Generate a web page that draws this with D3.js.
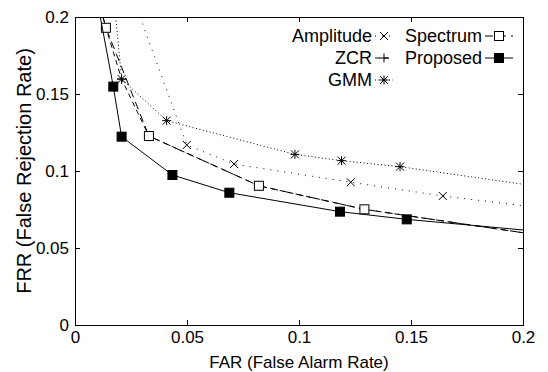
<!DOCTYPE html>
<html>
<head>
<meta charset="utf-8">
<script src="https://cdn.jsdelivr.net/npm/d3@7"></script>
<style>
	body { margin: 0; background: #fff; }
	svg { display: block; font-family: "Liberation Sans", Arial, sans-serif; }
	.axis text { font-size: 17px; fill: #000; font-family: "Liberation Sans", Arial, sans-serif; }
	.axis path { display: none; }
	.axis line { stroke: #000; }
	.xtitle { font-size: 17px; fill: #000; }
	.ytitle { font-size: 20px; fill: #000; }
	.legend text { font-size: 18px; fill: #000; }
</style>
</head>
<body>
<script>
(function() {

"use strict";

const TICKS = [0, 0.05, 0.1, 0.15, 0.2];
const TICK_LABELS = ["0", "0.05", "0.1", "0.15", "0.2"];

// values; points on the frame are where the line leaves the plot
const AMPLITUDE_FAR = [0.029, 0.0499, 0.071, 0.1231, 0.1642, 0.2];
const AMPLITUDE_FRR = [0.2, 0.1169, 0.1045, 0.0927, 0.0838, 0.0775];

const ZCR_FAR = [0.0125, 0.0138, 0.0208, 0.033, 0.0821, 0.1292, 0.2];
const ZCR_FRR = [0.2, 0.193, 0.1597, 0.1227, 0.0904, 0.0751, 0.0599];

const GMM_FAR = [0.0182, 0.0208, 0.0409, 0.0982, 0.119, 0.1451, 0.2];
const GMM_FRR = [0.2, 0.1597, 0.1327, 0.1108, 0.1067, 0.1028, 0.0914];

const SPECTRUM_FAR = [0.0125, 0.0138, 0.033, 0.0821, 0.1292, 0.2];
const SPECTRUM_FRR = [0.2, 0.193, 0.1227, 0.0904, 0.0751, 0.0599];

const PROPOSED_FAR = [0.0113, 0.0171, 0.0208, 0.0435, 0.0689, 0.1183, 0.1481, 0.2];
const PROPOSED_FRR = [0.2, 0.1548, 0.1223, 0.0974, 0.0859, 0.0736, 0.0686, 0.0617];

const SERIES = [
	{name: "Amplitude", far: AMPLITUDE_FAR, frr: AMPLITUDE_FRR, dash: "1,6", marker: "cross"},
	{name: "ZCR", far: ZCR_FAR, frr: ZCR_FRR, dash: "5,4", marker: "plus"},
	{name: "GMM", far: GMM_FAR, frr: GMM_FRR, dash: "1,2.5", marker: "star"},
	{name: "Spectrum", far: SPECTRUM_FAR, frr: SPECTRUM_FRR, dash: "8,5", marker: "open"},
	{name: "Proposed", far: PROPOSED_FAR, frr: PROPOSED_FRR, dash: null, marker: "filled"},
];

const width = 548, height = 372;
const margin = {top: 17, right: 25, bottom: 47, left: 75};

let x = d3.scaleLinear().domain([0, 0.2]).range([margin.left, width - margin.right]);
let y = d3.scaleLinear().domain([0, 0.2]).range([height - margin.bottom, margin.top]);

let svg = d3.select("body").append("svg")
	.attr("width", width)
	.attr("height", height);

svg.append("defs").append("clipPath")
	.attr("id", "plot")
	.append("rect")
		.attr("x", x(0))
		.attr("y", y(0.2))
		.attr("width", x(0.2) - x(0))
		.attr("height", y(0) - y(0.2));

let fmt = d => TICK_LABELS[TICKS.indexOf(d)];

// axes with inward ticks, mirrored on top and right
svg.append("g")
	.attr("class", "axis")
	.attr("transform", `translate(0, ${y(0)})`)
	.call(d3.axisBottom(x).tickValues(TICKS).tickFormat(fmt).tickSizeInner(-5).tickPadding(6));
svg.append("g")
	.attr("class", "axis")
	.attr("transform", `translate(0, ${y(0.2)})`)
	.call(d3.axisTop(x).tickValues(TICKS).tickFormat("").tickSizeInner(-5));
svg.append("g")
	.attr("class", "axis")
	.attr("transform", `translate(${x(0)}, 0)`)
	.call(d3.axisLeft(y).tickValues(TICKS).tickFormat(fmt).tickSizeInner(-5).tickPadding(6));
svg.append("g")
	.attr("class", "axis")
	.attr("transform", `translate(${x(0.2)}, 0)`)
	.call(d3.axisRight(y).tickValues(TICKS).tickFormat("").tickSizeInner(-5));

svg.append("rect")
	.attr("x", x(0))
	.attr("y", y(0.2))
	.attr("width", x(0.2) - x(0))
	.attr("height", y(0) - y(0.2))
	.attr("fill", "none")
	.attr("stroke", "#000")
	.attr("shape-rendering", "crispEdges");

svg.append("text")
	.attr("class", "xtitle")
	.attr("x", (x(0) + x(0.2)) / 2)
	.attr("y", 368)
	.attr("text-anchor", "middle")
	.text("FAR (False Alarm Rate)");

svg.append("text")
	.attr("class", "ytitle")
	.attr("transform", `translate(31, ${(y(0) + y(0.2)) / 2}) rotate(-90)`)
	.attr("text-anchor", "middle")
	.text("FRR (False Rejection Rate)");

function drawMarker(g, type, cx, cy) {
	let m = g.append("g").attr("transform", `translate(${cx}, ${cy})`);
	if (type === "cross" || type === "star")
		m.append("path").attr("d", "M-4,-4L4,4M-4,4L4,-4").attr("stroke", "#000").attr("fill", "none");
	if (type === "plus" || type === "star")
		m.append("path").attr("d", "M-4.5,0L4.5,0M0,-4.5L0,4.5").attr("stroke", "#000").attr("fill", "none");
	if (type === "open" || type === "filled")
		m.append("rect")
			.attr("x", -4.5).attr("y", -4.5).attr("width", 9).attr("height", 9)
			.attr("fill", type === "filled" ? "#000" : "#fff")
			.attr("stroke", "#000");
}

let line = d3.line()
	.x(d => x(d[0]))
	.y(d => y(d[1]));

let chart = svg.append("g").attr("clip-path", "url(#plot)");

for (let s of SERIES) {
	let points = s.far.map((f, i) => [f, s.frr[i]]);
	chart.append("path")
		.datum(points)
		.attr("d", line)
		.attr("fill", "none")
		.attr("stroke", "#000")
		.attr("stroke-width", 1)
		.attr("stroke-dasharray", s.dash);
	for (let p of points) {
		if (p[0] < 0.2 && p[1] < 0.2)
			drawMarker(chart, s.marker, x(p[0]), y(p[1]));
	}
}

// legend, two columns, labels right-aligned before the sample
let legend = svg.append("g").attr("class", "legend");
let slots = [
	{x: 372, y: 36, len: 18}, {x: 372, y: 58, len: 18}, {x: 372, y: 80, len: 18},
	{x: 482, y: 36, len: 28}, {x: 482, y: 58, len: 28},
];
SERIES.forEach((s, i) => {
	let slot = slots[i];
	legend.append("text")
		.attr("x", slot.x)
		.attr("y", slot.y)
		.attr("dy", "0.35em")
		.attr("text-anchor", "end")
		.text(s.name);
	legend.append("line")
		.attr("x1", slot.x + 3)
		.attr("x2", slot.x + 3 + slot.len)
		.attr("y1", slot.y)
		.attr("y2", slot.y)
		.attr("stroke", "#000")
		.attr("stroke-dasharray", s.dash);
	drawMarker(legend, s.marker, slot.x + 3 + slot.len / 2, slot.y);
});

})();
</script>
</body>
</html>
